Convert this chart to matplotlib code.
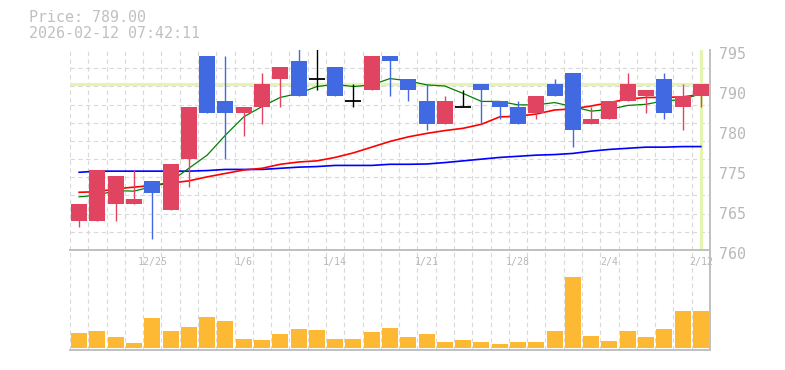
import matplotlib
matplotlib.use('Agg')
import matplotlib.pyplot as plt
import matplotlib.transforms as mtransforms
import numpy as np

# ---------------- data ----------------
dates = ['12/19', '12/22', '12/23', '12/24', '12/25', '12/26', '12/29', '12/30',
         '1/5', '1/6', '1/7', '1/8', '1/9', '1/13', '1/14', '1/15', '1/16',
         '1/19', '1/20', '1/21', '1/22', '1/23', '1/26', '1/27', '1/28',
         '1/29', '1/30', '2/2', '2/3', '2/4', '2/5', '2/6', '2/9', '2/10', '2/12']
opens = [765, 765, 768, 768, 772, 767, 776, 794, 786, 784, 785, 790, 793, 790,
         792, 786, 788, 794, 790, 786, 782, 785, 789, 786, 785, 784, 789, 791,
         782, 783, 786, 787, 790, 785, 787]
highs = [768, 774, 773, 774, 772, 775, 785, 794, 794, 785, 791, 792, 797, 797,
         792, 789, 794, 794, 790, 789, 787, 788, 789, 786, 786, 787, 790, 791,
         785, 786, 791, 788, 791, 789, 789]
lows = [764, 765, 765, 768, 762, 767, 771, 784, 776, 780, 782, 785, 787, 788,
        787, 785, 788, 787, 786, 781, 782, 785, 782, 783, 782, 783, 787, 778,
        782, 783, 786, 784, 783, 781, 785]
closes = [768, 774, 773, 769, 770, 775, 785, 784, 784, 785, 789, 792, 787, 790,
          787, 786, 794, 793, 788, 782, 786, 785, 788, 785, 782, 787, 787, 781,
          783, 786, 789, 788, 784, 787, 789]
ma_short = [769.3, 769.6, 770.4, 770.3, 771.1, 772.0, 774.3, 776.6, 780.1, 783.3,
            785.1, 786.7, 787.4, 788.6, 789.0, 788.6, 788.9, 790.0, 789.6, 788.9,
            788.7, 787.4, 786.0, 786.0, 785.4, 785.4, 785.8, 785.1, 784.3, 784.6,
            785.3, 785.5, 786.1, 786.3, 787.4]
ma_mid = [770.1, 770.2, 770.7, 771.0, 771.3, 771.7, 772.1, 772.8, 773.4, 774.0,
          774.3, 775.0, 775.4, 775.6, 776.2, 777.0, 778.0, 779.0, 779.8, 780.4,
          780.9, 781.3, 782.0, 783.3, 783.4, 783.8, 784.5, 784.7, 785.2, 785.8,
          786.4, 786.7, 786.7, 786.8, 787.2]
ma_long = [773.6, 773.8, 773.8, 773.8, 773.8, 773.8, 773.8, 773.9, 774.1, 774.1,
           774.1, 774.3, 774.5, 774.6, 774.8, 774.8, 774.8, 775.0, 775.0, 775.05,
           775.3, 775.6, 775.9, 776.2, 776.4, 776.6, 776.7, 776.9, 777.3, 777.6,
           777.8, 778.0, 778.0, 778.1, 778.1]
volumes = [15, 17, 11, 5, 30, 17, 21, 31, 27, 9, 8, 14, 19, 18, 9, 9, 16, 20,
           11, 14, 6, 8, 6, 4, 6, 6, 17, 71, 12, 7, 17, 11, 19, 37, 37]
last_price = 789.00
timestamp = '2026-02-12 07:42:11'
price_ticks = [795, 788, 781, 774, 767, 760]
price_tick_labels = ['795', '790', '780', '775', '765', '760']
date_label_idx = [4, 9, 14, 19, 24, 29, 34]

# ---------------- style ----------------
RED = '#E04460'
BLUE = '#4169E1'
VOL = '#FDB834'
HILITE = '#E4F5B2'
GRID = '#d9d9d9'
SPINE = '#c0c0c0'
TXT = '#b8b8b8'
MONO = ['DejaVu Sans Mono']

W, H = 785, 370
fig = plt.figure(figsize=(W / 100, H / 100), dpi=100)


def px_axes(l, t, r, b):
    return fig.add_axes([l / W, 1 - b / H, (r - l) / W, (b - t) / H])


ax = px_axes(70, 50, 710, 250)
axv = px_axes(70, 250, 710, 350)

n = len(closes)
x = np.arange(n)
bw = 0.875

for a in (ax, axv):
    a.set_xlim(-0.5, n - 0.5)
    a.set_xticks(np.arange(-0.5, n, 1), minor=True)
    a.set_xticks([])
    a.tick_params(axis='x', which='both', length=0, labelbottom=False)
    a.grid(which='minor', axis='x', color=GRID, lw=0.8, linestyle=(0, (4, 3)), zorder=0)
    a.spines['left'].set_visible(False)
    for s in ('right', 'bottom', 'top'):
        a.spines[s].set_color(SPINE)
        a.spines[s].set_linewidth(1.4)
    a.set_axisbelow(True)

ax.spines['top'].set_visible(False)

# price axis
ax.set_ylim(760, 795)
ax.set_yticks(np.linspace(760, 795, 12), minor=True)
ax.grid(which='minor', axis='y', color=GRID, lw=0.8, linestyle=(0, (4, 3)), zorder=0)
ax.yaxis.tick_right()
ax.set_yticks(price_ticks)
ax.set_yticklabels(price_tick_labels)
ax.tick_params(axis='y', which='both', length=0, pad=6.5, labelsize=10.8,
               labelcolor=TXT, left=False, labelleft=False, right=False, labelright=True)
for lbl in ax.get_yticklabels():
    lbl.set_fontfamily(MONO)
    lbl.set_transform(lbl.get_transform() +
                      mtransforms.ScaledTranslation(0, -3 / 100, fig.dpi_scale_trans))

ax.axhline(last_price, color=HILITE, lw=2.3, zorder=1)
ax.axvline(x[-1], color=HILITE, lw=2.3, zorder=1)

ax.plot(x, ma_long, color='#0000FF', lw=1.2, zorder=2)
ax.plot(x, ma_mid, color='#FF0000', lw=1.2, zorder=2)
ax.plot(x, ma_short, color='#008000', lw=0.9, zorder=2)

for i in range(n):
    o, c, h, l = opens[i], closes[i], highs[i], lows[i]
    if c > o:
        col = RED
    elif c < o:
        col = BLUE
    else:
        col = 'black'
    ax.vlines(x[i], l, h, color=col, lw=1.0, zorder=3)
    if c != o:
        ax.bar(x[i], abs(c - o), bottom=min(o, c), width=bw, color=col,
               linewidth=0, zorder=4)
    else:
        ax.hlines(o, x[i] - bw / 2, x[i] + bw / 2, color=col, lw=1.3, zorder=4)

# volume axis
axv.set_ylim(-2, 98)
axv.set_yticks([])
axv.bar(x, volumes, width=bw, color=VOL, linewidth=0, zorder=2)
trans = mtransforms.blended_transform_factory(axv.transData, axv.transAxes)
for i in date_label_idx:
    axv.text(x[i], 1 - 12 / 100, dates[i], transform=trans, ha='center', va='center',
             fontsize=7.2, color=TXT, family=MONO)

# header
fig.text(29 / W, 1 - 17.5 / H, f'Price: {last_price:.2f}', ha='left', va='center',
         fontsize=10.8, color='#c0c0c0', family=MONO)
fig.text(29 / W, 1 - 33.5 / H, timestamp, ha='left', va='center',
         fontsize=10.8, color='#c0c0c0', family=MONO)

fig.savefig('out.png', dpi=100)
